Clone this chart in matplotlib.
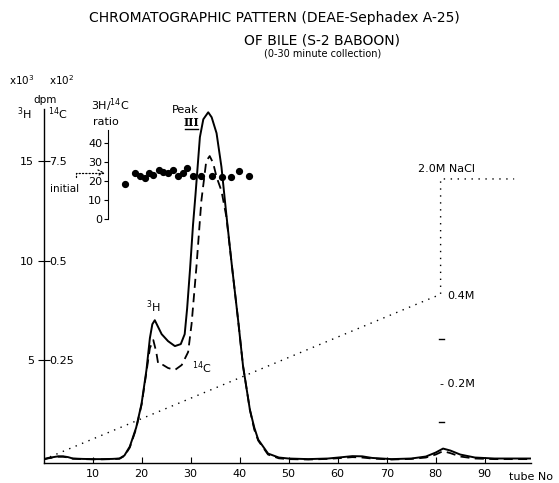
import numpy as np
import matplotlib
matplotlib.use("Agg")
import matplotlib.pyplot as plt

# --- data ---
tube_h3 = [0, 1, 2, 3, 4, 5, 6, 8, 10, 12, 14, 15.5, 16.5, 17.6, 18.9, 20, 21, 21.7,
           22.2, 22.7, 23.3, 24.1, 25.4, 26.8, 28, 28.8, 29.3, 29.9, 30.5, 31.0, 31.9,
           32.6, 33.6, 34.3, 35.3, 36.3, 37.3, 38.4, 39.7, 40.7, 42.1, 43.0, 43.8, 45.8,
           48, 50, 54, 58, 61, 63, 65, 67, 71, 75, 78, 80, 81.5, 83, 85, 88, 92, 96, 100]
h3 = [0.02, 0.08, 0.12, 0.16, 0.16, 0.12, 0.05, 0.03, 0.02, 0.02, 0.03, 0.05, 0.2,
      0.65, 1.6, 2.8, 4.5, 6.1, 6.8, 7.0, 6.7, 6.3, 5.95, 5.7, 5.8, 6.3, 7.6, 9.6,
      11.8, 13.3, 16.2, 17.1, 17.45, 17.2, 16.4, 14.7, 12.3, 9.8, 7.0, 4.7, 2.5,
      1.6, 1.0, 0.3, 0.1, 0.05, 0.02, 0.05, 0.12, 0.17, 0.16, 0.08, 0.02, 0.05,
      0.15, 0.35, 0.55, 0.45, 0.25, 0.1, 0.05, 0.05, 0.05]

tube_c14 = [0, 1, 2, 3, 4, 5, 6, 8, 10, 12, 14, 15.5, 16.5, 17.6, 18.9, 20, 21, 21.7,
            22.4, 23.0, 23.4, 24.4, 25.4, 26.8, 28.2, 29.5, 30.2, 31.2, 32.2, 33.2,
            33.9, 34.6, 35.3, 36.3, 37.3, 38.4, 39.7, 40.7, 42.1, 43.0, 43.8, 45.8,
            48, 50, 54, 58, 61, 63, 65, 67, 71, 75, 78, 80, 81.5, 83, 85, 88, 92, 96, 100]
c14 = [0.0, 0.06, 0.1, 0.14, 0.14, 0.1, 0.04, 0.02, 0.01, 0.01, 0.02, 0.04, 0.18,
       0.6, 1.55, 2.75, 4.4, 5.6, 6.0, 5.4, 4.8, 4.75, 4.6, 4.5, 4.75, 5.4, 6.8,
       9.7, 13.0, 15.0, 15.25, 14.9, 14.2, 13.5, 12.2, 9.8, 7.0, 4.7, 2.5,
       1.5, 0.95, 0.25, 0.06, 0.02, 0.0, 0.03, 0.08, 0.12, 0.1, 0.05, 0.0, 0.03,
       0.1, 0.25, 0.42, 0.32, 0.15, 0.05, 0.02, 0.02, 0.02]

ratio_tube = [16.7, 18.6, 19.7, 20.7, 21.6, 22.4, 23.5, 24.4, 25.4, 26.4, 27.5, 28.4,
              29.3, 30.4, 32.2, 34.3, 36.5, 38.2, 39.9, 41.9]
ratio = [18.6, 24.2, 22.9, 21.9, 24.2, 23.3, 25.9, 24.9, 24.2, 25.9, 22.9, 24.5,
         26.8, 22.8, 22.9, 22.9, 22.4, 22.1, 25.4, 22.8]
ratio_initial = 24.5

# NaCl gradient drawn in dpm units of the main axis
nacl_tube = [0, 78, 81, 81, 96]
nacl_level = [0, 8.0, 8.3, 14.1, 14.1]

h3_ticks = [5, 10, 15]
c14_labels = ["0.25", "0.5", "7.5"]
ratio_ticks = [0, 10, 20, 30, 40]
tube_ticks = [10, 20, 30, 40, 50, 60, 70, 80, 90]

W, H = 559, 483
X_MAX, Y_MIN, Y_MAX = 99.5, -0.15, 17.6


def px(x, y):
    return x / W, 1 - y / H


fig = plt.figure(figsize=(W / 100, H / 100), dpi=100)
ax = fig.add_axes([43.5 / W, (H - 462.5) / H, (531.3 - 43.5) / W, (462.5 - 109.3) / H])

ax.plot(tube_h3, h3, color="black", lw=1.4)
ax.plot(tube_c14, c14, color="black", lw=1.3, linestyle=(0, (5, 3)))
ax.plot(nacl_tube, nacl_level, color="black", lw=1.0, linestyle=(0, (1, 4)))

ax.set_xlim(0, X_MAX)
ax.set_ylim(Y_MIN, Y_MAX)
for s in ("top", "right"):
    ax.spines[s].set_visible(False)
ax.spines["left"].set_linewidth(1.0)
ax.spines["bottom"].set_linewidth(1.0)

ax.set_xticks(tube_ticks)
ax.tick_params(axis="x", direction="in", length=4, labelsize=8, pad=5)
ax.set_yticks(h3_ticks)
ax.tick_params(axis="y", direction="inout", length=8, labelsize=8, pad=3)

# 14C scale shares the left spine, labels on the right of it
ax2 = ax.twinx()
ax2.set_ylim(Y_MIN, Y_MAX)
for s in ("top", "left", "bottom", "right"):
    ax2.spines[s].set_visible(False)
ax2.spines["right"].set_position(("axes", 0))
ax2.set_yticks(h3_ticks)
ax2.set_yticklabels(c14_labels)
ax2.tick_params(axis="y", length=0, labelsize=8, pad=4)

# ratio inset on the same tube scale
axr = fig.add_axes([43.5 / W, (H - 219.3) / H, (531.3 - 43.5) / W, 89.3 / H])
axr.patch.set_alpha(0)
axr.set_xlim(0, X_MAX)
axr.set_ylim(0, 47)
axr.plot(ratio_tube, ratio, "o", color="black", ms=4.2)
for s in ("top", "right", "bottom"):
    axr.spines[s].set_visible(False)
axr.spines["left"].set_position(("data", 13.1))
axr.set_xticks([])
axr.set_yticks(ratio_ticks)
axr.tick_params(axis="y", direction="out", length=3, labelsize=8, pad=1)
axr.annotate("", xy=(13.1, ratio_initial), xytext=(6.6, 21.0),
             arrowprops=dict(arrowstyle="->", lw=0.9, linestyle=":",
                             connectionstyle="angle,angleA=90,angleB=0,rad=0"))
axr.text(4.2, 16.0, "initial", fontsize=7.5, ha="center", va="center")

# small gradient marks at tube 81
for lv in (1.9, 6.05):
    ax.plot([80.6, 81.6], [lv, lv], color="black", lw=1.0)

# labels
ax.text(22.5, 7.7, r"$^{3}$H", fontsize=8, ha="center", va="center")
ax.text(32.2, 4.6, r"$^{14}$C", fontsize=8, ha="center", va="center")
ax.text(76.4, 14.6, "2.0M NaCl", fontsize=8, ha="left", va="center")
ax.text(82.3, 8.2, "0.4M", fontsize=8, ha="left", va="center")
ax.text(80.8, 3.8, "- 0.2M", fontsize=8, ha="left", va="center")

fig.text(*px(185, 110), "Peak", fontsize=8, ha="center", va="center")
fig.text(*px(191, 123), "III", fontsize=8, ha="center", va="center", fontweight="bold",
         family="DejaVu Serif")
fig.lines.append(plt.Line2D([185 / W, 198 / W], [1 - 129 / H, 1 - 129 / H],
                            transform=fig.transFigure, color="black", lw=1.0))

fig.text(*px(274, 18), "CHROMATOGRAPHIC PATTERN (DEAE-Sephadex A-25)", fontsize=10,
         ha="center", va="center")
fig.text(*px(322, 41), "OF BILE (S-2 BABOON)", fontsize=10, ha="center", va="center")
fig.text(*px(323, 54), "(0-30 minute collection)", fontsize=7, ha="center", va="center")

fig.text(*px(22, 80), r"x10$^{3}$", fontsize=7.5, ha="center", va="center")
fig.text(*px(62, 80), r"x10$^{2}$", fontsize=7.5, ha="center", va="center")
fig.text(*px(45, 100), "dpm", fontsize=7.5, ha="center", va="center")
fig.text(*px(24, 114), r"$^{3}$H", fontsize=8, ha="center", va="center")
fig.text(*px(58, 114), r"$^{14}$C", fontsize=8, ha="center", va="center")
fig.text(*px(110, 105), r"3H/$^{14}$C", fontsize=8, ha="center", va="center")
fig.text(*px(106, 122), "ratio", fontsize=8, ha="center", va="center")
fig.text(*px(531, 477), "tube No", fontsize=8, ha="center", va="center")

fig.savefig("out.png", dpi=100)
